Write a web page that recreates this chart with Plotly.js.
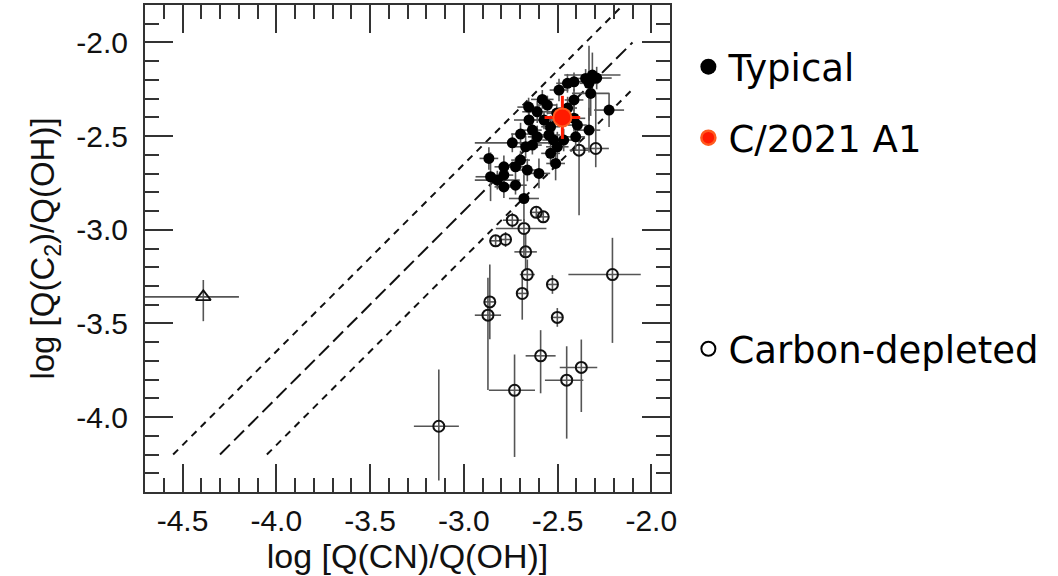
<!DOCTYPE html>
<html>
<head>
<meta charset="utf-8">
<script src="https://cdn.plot.ly/plotly-3.0.1.min.js"></script>
<style>html,body{margin:0;padding:0;background:#fff;}</style>
</head>
<body>
<div id="chart" style="width:1058px;height:576px;"></div>
<script>
// ---- Typical comets (filled black) ----
const typicalX = [-2.350,-2.314,-2.332,-2.291,-2.412,-2.447,-2.492,-2.323,-2.225,-2.412,
                  -2.581,-2.554,-2.608,-2.652,-2.634,-2.572,-2.537,-2.412,-2.394,-2.332,
                  -2.403,-2.546,-2.608,-2.741,-2.670,-2.634,-2.501,-2.537,-2.510,-2.697,
                  -2.724,-2.786,-2.866,-2.857,-2.821,-2.786,-2.724,-2.661,-2.599,-2.679,
                  -2.786,-2.504,-2.446,-2.521,-2.467,-2.654,-2.697];
const typicalY = [-2.192,-2.174,-2.218,-2.190,-2.210,-2.218,-2.254,-2.272,-2.361,-2.307,
                  -2.304,-2.334,-2.370,-2.414,-2.468,-2.414,-2.450,-2.405,-2.441,-2.468,
                  -2.504,-2.494,-2.504,-2.536,-2.557,-2.548,-2.557,-2.592,-2.646,-2.628,
                  -2.664,-2.664,-2.619,-2.717,-2.735,-2.771,-2.762,-2.681,-2.699,-2.833,
                  -2.708,-2.377,-2.350,-2.521,-2.521,-2.345,-2.489];
const typicalErrX = [0.06,0.15,0.05,0.08,0.05,0.06,0.05,0.10,0.08,0.05,
                     0.06,0.05,0.08,0.08,0.05,0.06,0.05,0.06,0.05,0.06,
                     0.05,0.06,0.05,0.20,0.06,0.05,0.06,0.05,0.05,0.05,
                     0.06,0.05,0.05,0.08,0.12,0.05,0.06,0.05,0.06,0.08,
                     0.05,0.05,0.05,0.06,0.05,0.06,0.05];
const typicalErrY = [0.05,0.12,0.20,0.06,0.05,0.05,0.06,0.12,0.09,0.06,
                     0.05,0.05,0.06,0.05,0.06,0.05,0.06,0.07,0.06,0.12,
                     0.07,0.05,0.06,0.05,0.06,0.05,0.08,0.06,0.09,0.05,
                     0.05,0.06,0.06,0.13,0.05,0.06,0.05,0.06,0.08,0.13,
                     0.05,0.05,0.06,0.05,0.06,0.05,0.06];

// ---- Carbon-depleted comets (open circles) ----
const depletedX = [-2.741,-2.679,-2.613,-2.576,-2.830,-2.777,-2.670,-2.661,-2.688,-2.527,
                   -2.501,-2.861,-2.871,-2.207,-2.590,-2.729,-2.451,-2.373,-3.133,-2.385,-2.296];
const depletedY = [-2.949,-2.993,-2.907,-2.931,-3.059,-3.052,-3.118,-3.239,-3.340,-3.292,
                   -3.468,-3.385,-3.456,-3.239,-3.673,-3.857,-3.803,-3.735,-4.049,-2.575,-2.566];
const depletedErrXPlus  = [0.05,0.12,0.03,0.03,0.03,0.03,0.06,0.04,0.03,0.03,
                           0.03,0.03,0.07,0.151,0.08,0.109,0.089,0.085,0.107,0.05,0.07];
const depletedErrXMinus = [0.05,0.15,0.03,0.03,0.03,0.03,0.06,0.04,0.03,0.03,
                           0.03,0.03,0.07,0.235,0.08,0.137,0.116,0.115,0.133,0.05,0.07];
const depletedErrYPlus  = [0.04,0.05,0.03,0.03,0.03,0.04,0.10,0.08,0.12,0.05,
                           0.05,0.20,0.20,0.196,0.137,0.191,0.181,0.149,0.303,0.071,0.30];
const depletedErrYMinus = [0.04,0.15,0.03,0.03,0.03,0.04,0.10,0.10,0.14,0.05,
                           0.05,0.20,0.40,0.365,0.200,0.356,0.312,0.238,0.290,0.347,0.10];

// ---- Unusual comet (open triangle) ----
const triX = [-4.389];
const triY = [-3.358];
const triErrXPlus = [0.19], triErrXMinus = [0.35];
const triErrYPlus = [0.09], triErrYMinus = [0.13];

// ---- C/2021 A1 ----
const a1X = [-2.474];
const a1Y = [-2.400];
const a1ErrX = [0.095];
const a1ErrY = [0.115];

// ---- Reference diagonal lines ----
const upperLineX = [-4.55, -2.15], upperLineY = [-4.20, -1.80];
const midLineX   = [-4.30, -2.10], midLineY   = [-4.20, -2.00];
const lowerLineX = [-4.05, -2.10], lowerLineY = [-4.20, -2.25];

// ---- Tick labels ----
const xTickVals = [-4.5, -4.0, -3.5, -3.0, -2.5, -2.0];
const xTickText = ['-4.5', '-4.0', '-3.5', '-3.0', '-2.5', '-2.0'];
const yTickVals = [-4.0, -3.5, -3.0, -2.5, -2.0];
const yTickText = ['-4.0', '-3.5', '-3.0', '-2.5', '-2.0'];

const errColor = '#555555';
const axisFont = 'Liberation Sans, Arial, Helvetica, sans-serif';
const legendFont = 'DejaVu Sans, sans-serif';

function errAsym(plus, minus) {
  return {type: 'data', symmetric: false, array: plus, arrayminus: minus,
          color: errColor, thickness: 1.6, width: 0};
}
function errSym(arr) {
  return {type: 'data', array: arr, color: errColor, thickness: 1.6, width: 0};
}

const traces = [
  {x: upperLineX, y: upperLineY, mode: 'lines', showlegend: false, hoverinfo: 'skip',
   line: {color: '#111', width: 2, dash: '7px,6px'}},
  {x: midLineX, y: midLineY, mode: 'lines', showlegend: false, hoverinfo: 'skip',
   line: {color: '#111', width: 2, dash: '14px,6px'}},
  {x: lowerLineX, y: lowerLineY, mode: 'lines', showlegend: false, hoverinfo: 'skip',
   line: {color: '#111', width: 2, dash: '7px,6px'}},
  {x: triX, y: triY, mode: 'markers', showlegend: false,
   marker: {symbol: 'triangle-up-open', size: 13, color: '#111', line: {width: 1.8}},
   error_x: errAsym(triErrXPlus, triErrXMinus), error_y: errAsym(triErrYPlus, triErrYMinus)},
  {x: depletedX, y: depletedY, mode: 'markers', showlegend: false, name: 'Carbon-depleted',
   marker: {symbol: 'circle-open', size: 11, color: '#111', line: {width: 2}},
   error_x: errAsym(depletedErrXPlus, depletedErrXMinus),
   error_y: errAsym(depletedErrYPlus, depletedErrYMinus)},
  {x: typicalX, y: typicalY, mode: 'markers', showlegend: false, name: 'Typical',
   marker: {symbol: 'circle', size: 11, color: '#000'},
   error_x: errSym(typicalErrX), error_y: errSym(typicalErrY)},
  {x: a1X, y: a1Y, mode: 'markers', showlegend: false, name: 'C/2021 A1',
   marker: {symbol: 'circle', size: 18, color: '#ff1a00', line: {color: '#ff5a1f', width: 2}},
   error_x: {type: 'data', array: a1ErrX, color: '#ff1a00', thickness: 3, width: 0},
   error_y: {type: 'data', array: a1ErrY, color: '#ff1a00', thickness: 3, width: 0}},
  // legend entries
  {x: [null], y: [null], mode: 'markers', name: 'Typical', legend: 'legend',
   marker: {symbol: 'circle', size: 16, color: '#000'}},
  {x: [null], y: [null], mode: 'markers', name: 'C/2021 A1', legend: 'legend2',
   marker: {symbol: 'circle', size: 14, color: '#ff1a00', line: {color: '#ff5a1f', width: 2.5}}},
  {x: [null], y: [null], mode: 'markers', name: 'Carbon-depleted', legend: 'legend3',
   marker: {symbol: 'circle-open', size: 14, color: '#000', line: {width: 2}}}
];

function legendAt(y) {
  return {x: 1.035, xanchor: 'left', y: y, yanchor: 'middle',
          font: {family: legendFont, size: 37, color: '#000'},
          bgcolor: 'rgba(0,0,0,0)', borderwidth: 0, itemclick: false};
}

const axisCommon = {
  showgrid: false, zeroline: false, showline: true, mirror: 'ticks',
  linecolor: '#333', linewidth: 2,
  ticks: 'inside', ticklen: 28, tickwidth: 2, tickcolor: '#333',
  tickmode: 'array',
  tickfont: {family: axisFont, size: 30, color: '#111'},
  minor: {dtick: 0.1, ticks: 'inside', ticklen: 14, tickwidth: 2, tickcolor: '#333', showgrid: false}
};

const layout = {
  width: 1058, height: 576,
  margin: {l: 145, r: 388, t: 5, b: 84},
  paper_bgcolor: '#fff', plot_bgcolor: '#fff',
  showlegend: true,
  xaxis: Object.assign({}, axisCommon, {
    range: [-4.7, -1.9], tickvals: xTickVals, ticktext: xTickText,
    ticklabelstandoff: 1,
    minor: Object.assign({}, axisCommon.minor, {tick0: -4.5}),
    title: {text: 'log [Q(CN)/Q(OH)]', font: {family: axisFont, size: 34, color: '#111'}, standoff: 6}
  }),
  yaxis: Object.assign({}, axisCommon, {
    range: [-4.4, -1.8], tickvals: yTickVals, ticktext: yTickText,
    ticklabelstandoff: 9,
    minor: Object.assign({}, axisCommon.minor, {tick0: -4.0}),
    title: {text: 'log [Q(C<sub>2</sub>)/Q(OH)]', font: {family: axisFont, size: 33, color: '#111'}, standoff: 12}
  }),
  legend: legendAt(0.8725),
  legend2: legendAt(0.7267),
  legend3: legendAt(0.2932)
};

Plotly.newPlot('chart', traces, layout, {staticPlot: true, displayModeBar: false});
</script>
</body>
</html>
